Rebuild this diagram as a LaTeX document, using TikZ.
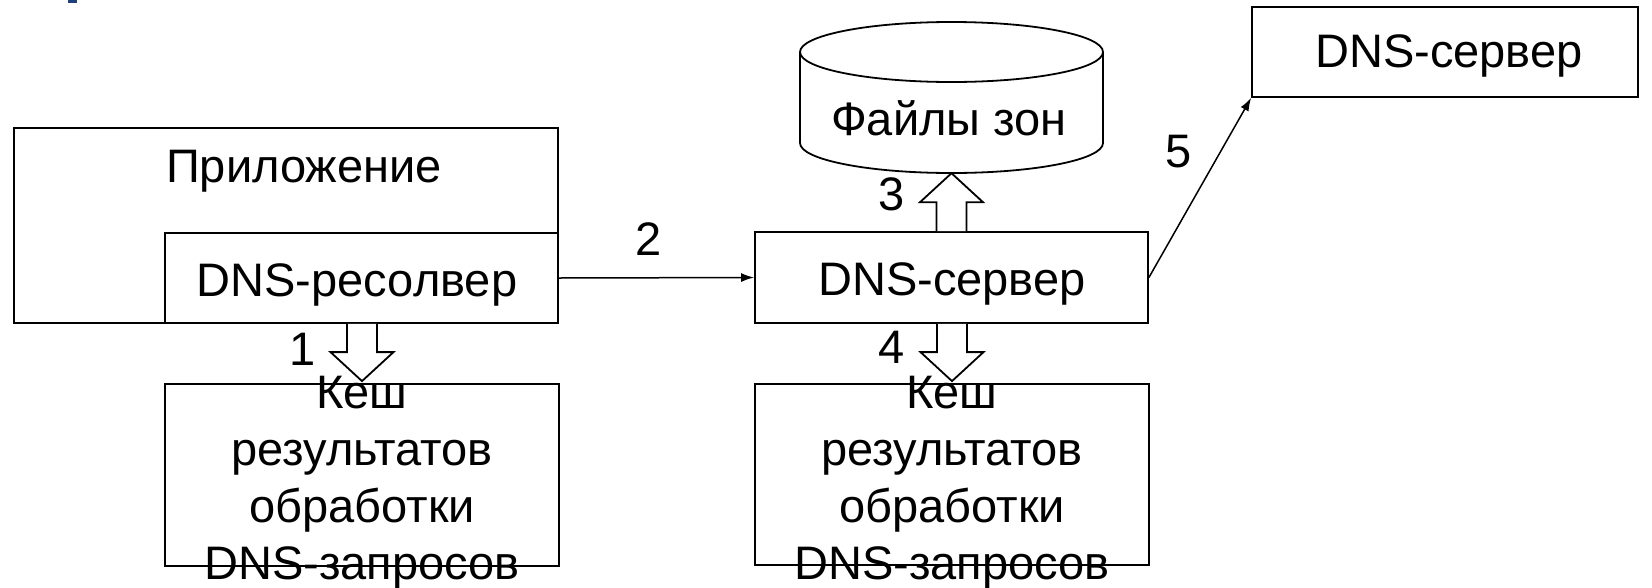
\documentclass[tikz,border=0pt]{standalone}
\usepackage{fontspec}
\setmainfont{Liberation Sans}
\usetikzlibrary{calc,arrows.meta}
\definecolor{titleblue}{RGB}{31,63,125}
\begin{document}
\begin{tikzpicture}[x=1pt,y=-1pt,
  box/.style={draw,line width=1.8pt,rectangle,inner sep=0pt},
  txt/.style={inner sep=0pt,anchor=base,font=\fontsize{47}{57}\selectfont},
  thin/.style={line width=1.5pt,-{Latex[length=13pt,width=9pt]}},
  blk/.style={draw,line width=1.8pt,fill=white,line join=miter}]
\useasboundingbox (0,0) rectangle (1652,587);
\fill[titleblue] (68,0) rectangle (77,3);
% boxes
\node[box,minimum width=544pt,minimum height=195pt] (app) at (286,225.5) {};
\node[box,minimum width=393pt,minimum height=90pt] (res) at (361.5,278) {};
\node[box,minimum width=393pt,minimum height=91pt] (dns) at (951.5,277.5) {};
\node[box,minimum width=386pt,minimum height=90pt] (rdns) at (1445,52) {};
\node[box,minimum width=394pt,minimum height=182pt] (cache1) at (362,475) {};
\node[box,minimum width=394pt,minimum height=181pt] (cache2) at (952,474.5) {};
% cylinder
\node[inner sep=0pt,minimum width=303pt,minimum height=151pt] (files) at (951.5,97.5) {};
\draw[line width=1.8pt,fill=white] (800,52) -- (800,143) arc[start angle=180,end angle=0,x radius=151.5,y radius=30] -- (1103,52);
\draw[line width=1.8pt] (951.5,52) ellipse[x radius=151.5,y radius=30];
% texts
\node[txt] (tapp) at (304,182) {Приложение};
\node[txt] (tres) at (357,296) {DNS-ресолвер};
\node[txt] (tdns) at (952,295) {DNS-сервер};
\node[txt] (trdns) at (1449,67) {DNS-сервер};
\node[txt] (tfiles) at (949,135) {Файлы зон};
% connectors
\draw[thin] (res.east) -- (dns.west);
\draw[thin] (dns.east) -- (rdns.south west);
% block arrows
\coordinate (a1s) at (cache1.north |- res.south);
\coordinate (a1e) at ($(cache1.north)+(0,-2)$);
\draw[blk] ($(a1s)+(-15,0)$) -- ($(a1e)+(-15,-29)$) -- ($(a1e)+(-31.5,-29)$) -- (a1e) -- ($(a1e)+(31.5,-29)$) -- ($(a1e)+(15,-29)$) -- ($(a1s)+(15,0)$);
\coordinate (a4s) at (cache2.north |- dns.south);
\coordinate (a4e) at ($(cache2.north)+(0,-2)$);
\draw[blk] ($(a4s)+(-15,0)$) -- ($(a4e)+(-15,-29)$) -- ($(a4e)+(-31.5,-29)$) -- (a4e) -- ($(a4e)+(31.5,-29)$) -- ($(a4e)+(15,-29)$) -- ($(a4s)+(15,0)$);
\coordinate (a3s) at (dns.north);
\coordinate (a3e) at (files.south -| dns.north);
\draw[blk] ($(a3s)+(-15,0)$) -- ($(a3e)+(-15,29)$) -- ($(a3e)+(-31.5,29)$) -- (a3e) -- ($(a3e)+(31.5,29)$) -- ($(a3e)+(15,29)$) -- ($(a3s)+(15,0)$);
% cache texts
\node[txt,anchor=center,align=center] (tc1) at (362,483) {Кеш\\результатов\\обработки\\DNS-запросов};
\node[txt,anchor=center,align=center] (tc2) at (952,483) {Кеш\\результатов\\обработки\\DNS-запросов};
% numbers
\node[txt] (n1) at (303,365) {1};
\node[txt] (n2) at (649,255) {2};
\node[txt] (n3) at (892,210) {3};
\node[txt] (n4) at (892,363) {4};
\node[txt] (n5) at (1179,167) {5};
\end{tikzpicture}
\end{document}
